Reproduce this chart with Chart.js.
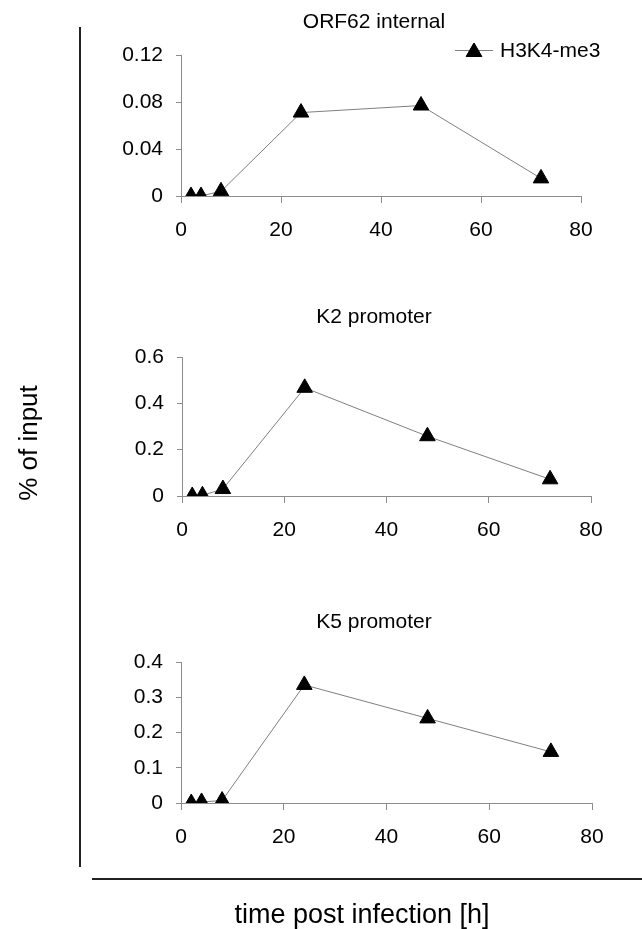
<!DOCTYPE html>
<html>
<head>
<meta charset="utf-8">
<script src="https://cdn.jsdelivr.net/npm/chart.js@4.4.0/dist/chart.umd.min.js"></script>
<style>
	html, body {
		margin: 0;
		padding: 0;
		background: #fff;
	}
	#page {
		position: relative;
		width: 642px;
		height: 929px;
		overflow: hidden;
		font-family: "Liberation Sans", Arial, sans-serif;
		color: #000;
	}
	#page canvas {
		position: absolute;
		left: 0;
		top: 0;
	}
	.title {
		position: absolute;
		width: 300px;
		margin-left: -150px;
		text-align: center;
		font-size: 21px;
		line-height: 24px;
		white-space: nowrap;
	}
	#vline {
		position: absolute;
		left: 79px;
		top: 27px;
		width: 2px;
		height: 840px;
		background: #222;
	}
	#hline {
		position: absolute;
		left: 92px;
		top: 878px;
		width: 550px;
		height: 2px;
		background: #222;
	}
	#ylabel {
		position: absolute;
		left: 28px;
		top: 443px;
		width: 200px;
		margin-left: -100px;
		margin-top: -15px;
		text-align: center;
		font-size: 26px;
		line-height: 30px;
		transform: rotate(-90deg);
		white-space: nowrap;
	}
	#xlabel {
		position: absolute;
		left: 362px;
		top: 899px;
		width: 400px;
		margin-left: -200px;
		text-align: center;
		font-size: 27px;
		line-height: 30px;
		white-space: nowrap;
	}
</style>
</head>
<body>
<div id="page">
	<canvas id="c1" width="642" height="929"></canvas>
	<canvas id="c2" width="642" height="929"></canvas>
	<canvas id="c3" width="642" height="929"></canvas>
	<div class="title" style="left:374px; top:9px;">ORF62 internal</div>
	<div class="title" style="left:374px; top:304px;">K2 promoter</div>
	<div class="title" style="left:374px; top:609px;">K5 promoter</div>
	<div id="vline"></div>
	<div id="hline"></div>
	<div id="ylabel">% of input</div>
	<div id="xlabel">time post infection [h]</div>
</div>
<script>
// hours post infection
const hours = [2, 4, 8, 24, 48, 72];
const seriesName = "H3K4-me3";

// % of input
const orf62Values = [0, 0, 0.004, 0.071, 0.077, 0.015];
const k2Values = [0, 0.003, 0.03, 0.467, 0.258, 0.072];
const k5Values = [0, 0.003, 0.007, 0.335, 0.24, 0.145];

const xTicks = [0, 20, 40, 60, 80];
const orf62Ticks = [0, 0.04, 0.08, 0.12];
const orf62TickLabels = ["0", "0.04", "0.08", "0.12"];
const k2Ticks = [0, 0.2, 0.4, 0.6];
const k2TickLabels = ["0", "0.2", "0.4", "0.6"];
const k5Ticks = [0, 0.1, 0.2, 0.3, 0.4];
const k5TickLabels = ["0", "0.1", "0.2", "0.3", "0.4"];

const FONT = "Liberation Sans";
const AXIS_GRAY = "#8c8c8c";
const LINE_GRAY = "#7f7f7f";
const MARKER_R = 9;

// draws the excel-like legend (line with triangle) in the first panel
const legendPlugin = {
	id: "excelLegend",
	afterDraw(chart) {
		const ctx = chart.ctx;
		const y = 50;
		ctx.save();
		ctx.strokeStyle = LINE_GRAY;
		ctx.lineWidth = 1;
		ctx.beginPath();
		ctx.moveTo(455, y + 0.5);
		ctx.lineTo(493, y + 0.5);
		ctx.stroke();
		Chart.helpers.drawPoint(
			ctx,
			{ pointStyle: "triangle", radius: MARKER_R, borderWidth: 1 },
			474,
			y + 2
		);
		ctx.fillStyle = "#000";
		ctx.fill();
		ctx.strokeStyle = "#000";
		ctx.stroke();
		ctx.font = "21px '" + FONT + "'";
		ctx.textBaseline = "middle";
		ctx.textAlign = "left";
		ctx.fillText(seriesName, 500, y + 1);
		ctx.restore();
	},
};

function makePanel(canvasId, values, yTicks, yLabels, area, withLegend) {
	const ctx = document.getElementById(canvasId).getContext("2d");
	const xAxisHeight = 50;
	const padLeft = 90;
	return new Chart(ctx, {
		type: "scatter",
		data: {
			datasets: [
				{
					label: seriesName,
					data: hours.map((h, i) => ({ x: h, y: values[i] })),
					showLine: true,
					borderColor: LINE_GRAY,
					borderWidth: 1,
					pointStyle: "triangle",
					pointRadius: MARKER_R,
					pointHoverRadius: MARKER_R,
					pointBackgroundColor: "#000",
					pointBorderColor: "#000",
					pointBorderWidth: 1,
				},
			],
		},
		options: {
			responsive: false,
			animation: false,
			events: [],
			layout: {
				padding: {
					left: padLeft,
					top: area.top,
					right: 642 - area.right,
					bottom: 929 - area.bottom - xAxisHeight,
				},
			},
			plugins: {
				legend: { display: false },
				tooltip: { enabled: false },
				title: { display: false },
			},
			scales: {
				x: {
					type: "linear",
					min: 0,
					max: 80,
					afterBuildTicks: (s) => {
						s.ticks = xTicks.map((v) => ({ value: v }));
					},
					afterFit: (s) => {
						s.height = xAxisHeight;
					},
					border: { color: AXIS_GRAY, width: 1 },
					grid: {
						drawOnChartArea: false,
						color: AXIS_GRAY,
						tickLength: 7,
					},
					ticks: {
						color: "#000",
						padding: 15,
						maxRotation: 0,
						font: { family: FONT, size: 21 },
						callback: (v) => String(v),
					},
				},
				y: {
					type: "linear",
					min: yTicks[0],
					max: yTicks[yTicks.length - 1],
					afterBuildTicks: (s) => {
						s.ticks = yTicks.map((v) => ({ value: v }));
					},
					afterFit: (s) => {
						s.width = area.left - padLeft;
					},
					border: { color: AXIS_GRAY, width: 1 },
					grid: {
						drawOnChartArea: false,
						color: AXIS_GRAY,
						tickLength: 5,
					},
					ticks: {
						color: "#000",
						padding: 13,
						font: { family: FONT, size: 21 },
						callback: (v, i) => yLabels[i],
					},
				},
			},
		},
		plugins: withLegend ? [legendPlugin] : [],
	});
}

makePanel("c1", orf62Values, orf62Ticks, orf62TickLabels,
	{ left: 181, right: 581, top: 55, bottom: 196 }, true);
makePanel("c2", k2Values, k2Ticks, k2TickLabels,
	{ left: 182, right: 591, top: 357, bottom: 496 }, false);
makePanel("c3", k5Values, k5Ticks, k5TickLabels,
	{ left: 181, right: 592, top: 662, bottom: 803 }, false);
</script>
</body>
</html>
